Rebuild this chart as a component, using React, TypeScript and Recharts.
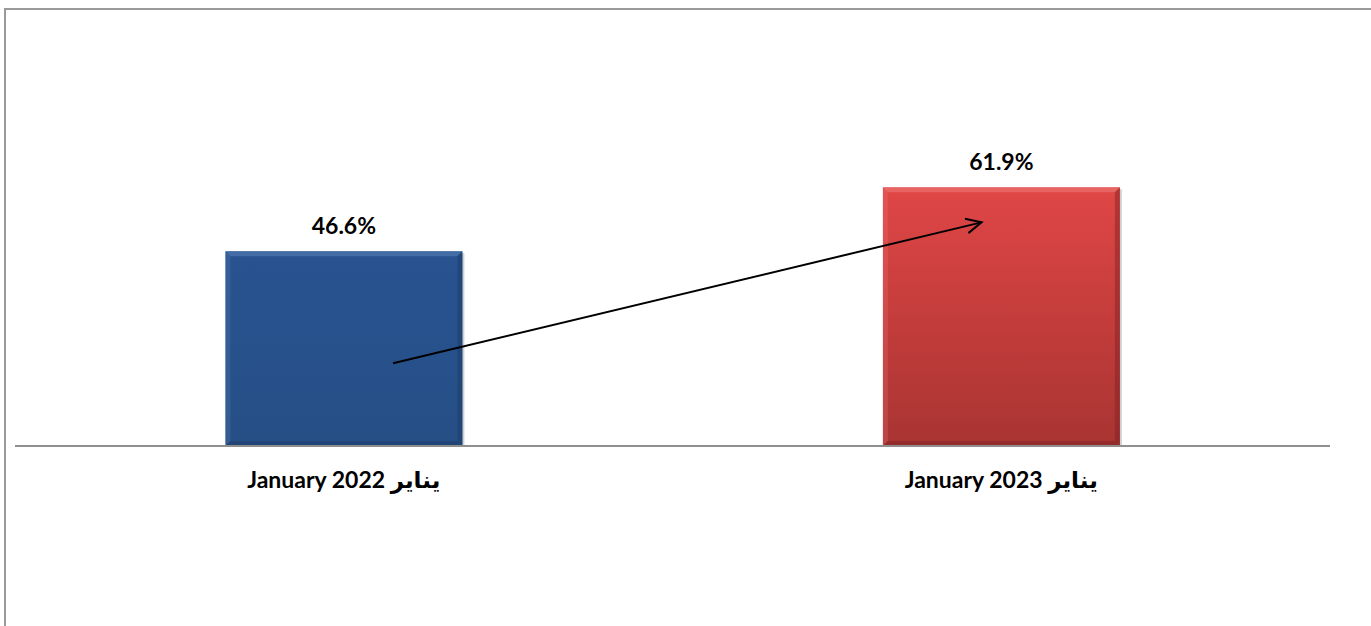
// Two-bar comparison (January 2022 vs January 2023) with a rising arrow.
import { Bar, BarChart, LabelList, ReferenceLine, XAxis, YAxis, Cell } from "recharts";

const categories = ["January 2022 يناير", "January 2023 يناير"];
const values = [46.6, 61.9];
const barColors = [
  { top: "#285390", bottom: "#264f86", light: "#5a82b8", dark: "#1b3a63" },
  { top: "#e04646", bottom: "#a83432", light: "#ee7d7b", dark: "#7a2221" },
];
// arrow: [x on a 0..2 band axis, y value]
const arrowFrom = [0.575, 19.8];
const arrowTo = [1.47, 53.5];

const data = categories.map((name, i) => ({ name, value: values[i], pos: i + 0.5 }));

const FONT = "Lato, 'DejaVu Sans', sans-serif";

function BevelBar(props: any) {
  const { x, y, width, height, index } = props;
  if (!height || height <= 0) return null;
  const c = barColors[index] ?? barColors[0];
  const b = 5;
  const id = `barGrad${index}`;
  return (
    <g>
      <defs>
        <linearGradient id={id} x1="0" y1="0" x2="0" y2="1">
          <stop offset="0%" stopColor={c.top} />
          <stop offset="100%" stopColor={c.bottom} />
        </linearGradient>
      </defs>
      {/* soft shadow */}
      <rect x={x + 2} y={y + 2} width={width} height={height - 2} fill="rgba(0,0,0,0.18)" />
      <rect x={x} y={y} width={width} height={height} fill={`url(#${id})`} />
      <polygon points={`${x},${y} ${x + width},${y} ${x + width - b},${y + b} ${x + b},${y + b}`} fill={c.light} opacity={0.55} />
      <polygon points={`${x},${y} ${x + b},${y + b} ${x + b},${y + height - b} ${x},${y + height}`} fill={c.light} opacity={0.25} />
      <polygon points={`${x + width},${y} ${x + width},${y + height} ${x + width - b},${y + height - b} ${x + width - b},${y + b}`} fill={c.dark} opacity={0.45} />
      <polygon points={`${x},${y + height} ${x + width},${y + height} ${x + width - b},${y + height - b} ${x + b},${y + height - b}`} fill={c.dark} opacity={0.45} />
    </g>
  );
}

function CategoryTick(props: any) {
  const { x, y, payload } = props;
  return (
    <text x={x} y={y + 42} textAnchor="middle" fontFamily={FONT} fontWeight="bold" fontSize={23} fill="#000">
      {payload.value}
    </text>
  );
}

function Arrow(props: any) {
  const { x1, y1, x2, y2 } = props;
  if (x1 == null) return null;
  const ang = Math.atan2(y2 - y1, x2 - x1);
  const len = 17;
  const spread = 0.45;
  const ax = x2 - len * Math.cos(ang - spread);
  const ay = y2 - len * Math.sin(ang - spread);
  const bx = x2 - len * Math.cos(ang + spread);
  const by = y2 - len * Math.sin(ang + spread);
  return (
    <g>
      <line x1={x1} y1={y1} x2={x2} y2={y2} stroke="#000" strokeWidth={2} />
      <polyline points={`${ax},${ay} ${x2},${y2} ${bx},${by}`} fill="none" stroke="#000" strokeWidth={2} />
    </g>
  );
}

export default function App() {
  return (
    <div style={{ position: "fixed", left: 0, top: 0, width: 1371, height: 626, overflow: "hidden", background: "#fff" }}>
      <div
        style={{
          position: "absolute",
          left: 4,
          top: 8,
          width: 1400,
          height: 700,
          borderLeft: "2px solid #9a9a9a",
          borderTop: "2px solid #9a9a9a",
        }}
      />
      <div style={{ position: "absolute", left: 0, top: 0 }}>
        <BarChart
          width={1371}
          height={626}
          data={data}
          margin={{ top: 28, right: 41, bottom: 120, left: 15 }}
          barCategoryGap="32%"
        >
          <XAxis
            dataKey="name"
            xAxisId="cat"
            tick={<CategoryTick />}
            tickLine={false}
            tickSize={0}
            tickMargin={0}
            height={60}
            axisLine={{ stroke: "#8f8f8f", strokeWidth: 2 }}
            interval={0}
          />
          <XAxis dataKey="pos" xAxisId="num" type="number" domain={[0, 2]} hide />
          <YAxis domain={[0, 100]} hide />
          <Bar dataKey="value" xAxisId="cat" shape={<BevelBar />} isAnimationActive={false}>
            {data.map((d, i) => (
              <Cell key={i} fill={barColors[i].top} />
            ))}
            <LabelList
              dataKey="value"
              position="top"
              offset={17}
              formatter={(v: any) => `${Number(v).toFixed(1)}%`}
              style={{ fontFamily: FONT, fontWeight: "bold", fontSize: 23, fill: "#000" }}
            />
          </Bar>
          <ReferenceLine
            xAxisId="num"
            segment={[
              { x: arrowFrom[0], y: arrowFrom[1] },
              { x: arrowTo[0], y: arrowTo[1] },
            ]}
            ifOverflow="visible"
            shape={(p: any) => <Arrow {...p} />}
          />
        </BarChart>
      </div>
    </div>
  );
}
